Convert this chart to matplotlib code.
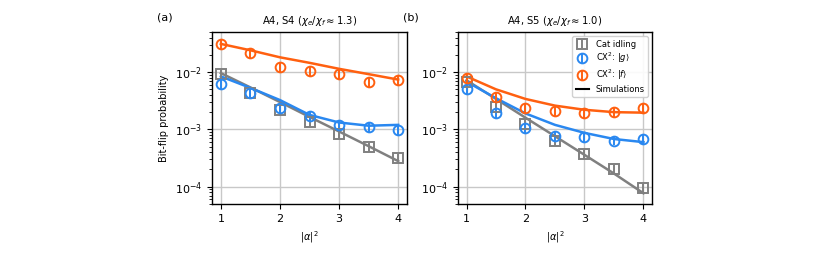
import matplotlib
matplotlib.use("Agg")
import matplotlib.pyplot as plt
import numpy as np
from matplotlib.lines import Line2D

x = [1.0, 1.5, 2.0, 2.5, 3.0, 3.5, 4.0]

# Panel (a): A4, S4
a_idle = [0.0091, 0.0044, 0.0022, 0.00132, 0.00084, 0.00050, 0.00032]
a_g = [0.0063, 0.00424, 0.0024, 0.00168, 0.00117, 0.00110, 0.00096]
a_f = [0.031, 0.0216, 0.0122, 0.0103, 0.0091, 0.0067, 0.0074]
a_idle_sim = [0.0096, 0.0054, 0.0030, 0.00165, 0.00092, 0.00051, 0.00028]
a_g_sim = [0.0084, 0.0053, 0.00325, 0.00179, 0.00132, 0.00116, 0.00120]
a_f_sim = [0.031, 0.0240, 0.0181, 0.0145, 0.0114, 0.0092, 0.0074]

# Panel (b): A4, S5
b_idle = [0.0067, 0.0025, 0.00126, 0.00062, 0.00037, 0.00020, 0.000094]
b_g = [0.0050, 0.0019, 0.00104, 0.00078, 0.00074, 0.00064, 0.00068]
b_f = [0.0080, 0.0037, 0.0024, 0.00213, 0.00196, 0.00204, 0.0024]
b_idle_sim = [0.0072, 0.0034, 0.0016, 0.00076, 0.00036, 0.00017, 0.000077]
b_g_sim = [0.0068, 0.0035, 0.0019, 0.0012, 0.00087, 0.00068, 0.00060]
b_f_sim = [0.0084, 0.0050, 0.0034, 0.0026, 0.0022, 0.0020, 0.00196]

# relative error bars (fraction of value)
rel_err = [0.18, 0.18, 0.18, 0.18, 0.18, 0.18, 0.18]

titles = [r"A4, S4 ($\chi_e/\chi_f \approx 1.3$)", r"A4, S5 ($\chi_e/\chi_f \approx 1.0$)"]
panel_labels = ["(a)", "(b)"]

c_idle = "#808080"
c_g = "#2a88f0"
c_f = "#ff6010"

plt.rcParams['font.family'] = ['DejaVu Sans']
fig = plt.figure(figsize=(8.3, 2.6), dpi=100)
ax_a = fig.add_axes([0.2554, 0.2154, 0.2350, 0.6615])
ax_b = fig.add_axes([0.5514, 0.2154, 0.2345, 0.6615])

datasets = [
    (a_idle, a_g, a_f, a_idle_sim, a_g_sim, a_f_sim),
    (b_idle, b_g, b_f, b_idle_sim, b_g_sim, b_f_sim),
]

for i, (ax, d) in enumerate(zip([ax_a, ax_b], datasets)):
    idle, g, f, idle_s, g_s, f_s = d
    ax.grid(True, which="major", color="#c8c8c8", lw=1.0, zorder=0)
    ax.plot(x, idle_s, color=c_idle, lw=1.8, zorder=2)
    ax.plot(x, g_s, color=c_g, lw=1.8, zorder=2)
    ax.plot(x, f_s, color=c_f, lw=1.8, zorder=2)
    for vals, col, mk, lab in [(idle, c_idle, "s", "Cat idling"),
                               (g, c_g, "o", r"CX$^2$: $|g\rangle$"),
                               (f, c_f, "o", r"CX$^2$: $|f\rangle$")]:
        v = np.array(vals)
        err = v * np.array(rel_err)
        ax.errorbar(x, vals, yerr=err, fmt=mk, mfc="none", mec=col, ecolor=col,
                    ms=7, mew=1.4, elinewidth=1.4, capsize=0, zorder=3, label=lab)
    ax.set_yscale("log")
    ax.set_ylim(5e-5, 5e-2)
    ax.set_xlim(0.85, 4.15)
    ax.set_xticks([1, 2, 3, 4])
    ax.tick_params(labelsize=8, length=3.5, width=0.8)
    ax.tick_params(which="minor", length=2, width=0.6)
    ax.set_xlabel(r"$|\alpha|^2$", fontsize=7)
    ax.set_title(titles[i], fontsize=7.2, pad=6)
    for s in ax.spines.values():
        s.set_linewidth(1.0)

ax_a.set_ylabel("Bit-flip probability", fontsize=7)
fig.text(157/830, 1 - 17.5/260, "(a)", fontsize=8, ha="left", va="center")
fig.text(403/830, 1 - 17.5/260, "(b)", fontsize=8, ha="left", va="center")

handles, labels = ax_b.get_legend_handles_labels()
handles.append(Line2D([], [], color="black", lw=1.5))
labels.append("Simulations")
ax_b.legend(handles, labels, loc="upper right", fontsize=6, frameon=True,
            framealpha=0.9, edgecolor="#cccccc", handlelength=1.6,
            borderpad=0.4, labelspacing=0.3, handletextpad=0.8)

fig.savefig("out.png", dpi=100)
